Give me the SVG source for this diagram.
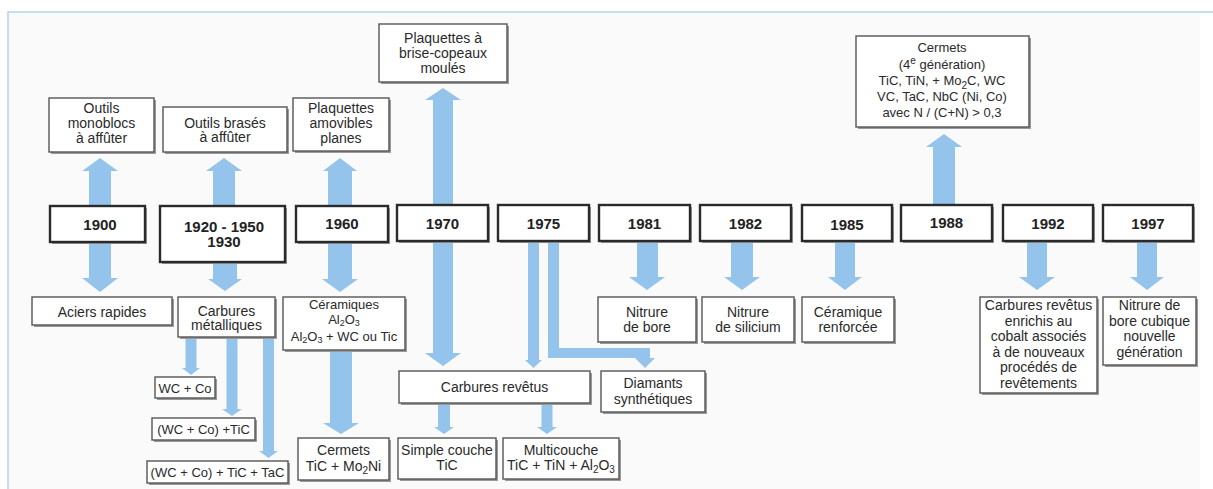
<svg xmlns="http://www.w3.org/2000/svg" width="1213" height="489" viewBox="0 0 1213 489">
<style>
text{font-family:"Liberation Sans",Arial,sans-serif;font-size:14px;fill:#2a2a2a;text-anchor:middle}
.yr{font-size:15px;font-weight:bold;fill:#222}
.sm{font-size:13px}
.box{fill:#fff;stroke:#555;stroke-width:1.4}
.ybox{fill:#fff;stroke:#2a2a2a;stroke-width:2.4}
.sh{fill:#9a9a9a}
.arr{fill:#94c4ec;stroke:none}
.sub{font-size:10px}
.sub9{font-size:9px}
</style>
<rect x="0" y="0" width="1213" height="489" fill="#fff"/>
<rect x="8" y="12" width="1192" height="477" fill="#fafafa"/>
<path d="M8 489 V12 H1213" fill="none" stroke="#b6d4e4" stroke-width="1.5"/>

<g id="connectors">
<polygon class="arr" points="89,206 111,206 111,171 118,171 100,158 82,171 89,171"/>
<polygon class="arr" points="213,206 235,206 235,171 242,171 224,158 206,171 213,171"/>
<polygon class="arr" points="328,206 352,206 352,171 357,171 340,158 323,171 328,171"/>
<polygon class="arr" points="433,100 425,100 443,88 461,100 453,100 453,353 461,353 443,366 425,353 433,353"/>
<polygon class="arr" points="933,205 955,205 955,147 962,147 944,134 926,147 933,147"/>
<polygon class="arr" points="89,242 111,242 111,278 118,278 100,292 82,278 89,278"/>
<polygon class="arr" points="213,262 237,262 237,279 242,279 225,291 208,279 213,279"/>
<polygon class="arr" points="328,242 352,242 352,279 358,279 340,292 322,279 328,279"/>
<polygon class="arr" points="528,241 539,241 539,360 542,360 533.5,368 525,360 528,360"/>
<polygon class="arr" points="548,241 559,241 559,348 650,348 650,358 655,358 645,368 635,358 548,358"/>
<polygon class="arr" points="637,241 658,241 658,277 665,277 647,290 629,277 637,277"/>
<polygon class="arr" points="731,241 753,241 753,277 760,277 742,290 724,277 731,277"/>
<polygon class="arr" points="835,241 855,241 855,277 862,277 845,290 828,277 835,277"/>
<polygon class="arr" points="1027,241 1047,241 1047,277 1055,277 1037,290 1019,277 1027,277"/>
<polygon class="arr" points="1137,241 1157,241 1157,277 1164,277 1147,290 1130,277 1137,277"/>
<polygon class="arr" points="330,350 352,350 352,423 359,423 341,434 323,423 330,423"/>
<polygon class="arr" points="185.5,337 196.5,337 196.5,368 200,368 191,375 182,368 185.5,368"/>
<polygon class="arr" points="226.5,337 237.5,337 237.5,409 242,409 232,416 222,409 226.5,409"/>
<polygon class="arr" points="263,337 274,337 274,451 278,451 268.5,458 259,451 263,451"/>
<polygon class="arr" points="438,403 450,403 450,427 454,427 444,434 434,427 438,427"/>
<polygon class="arr" points="541.5,403 552.5,403 552.5,427 557,427 547,434 537,427 541.5,427"/>
</g>

<g id="n-monoblocs"><rect class="sh" x="51" y="100" width="105" height="54"/><rect class="box" x="49" y="98" width="105" height="54"/><text x="101.5" y="113">Outils</text><text x="101.5" y="128">monoblocs</text><text x="101.5" y="143">à affûter</text></g>
<g id="n-brases"><rect class="sh" x="165" y="109" width="124" height="45"/><rect class="box" x="163" y="107" width="124" height="45"/><text x="225" y="128">Outils brasés</text><text x="225" y="142">à affûter</text></g>
<g id="n-amovibles"><rect class="sh" x="295" y="100" width="96" height="53"/><rect class="box" x="293" y="98" width="96" height="53"/><text x="341" y="113">Plaquettes</text><text x="341" y="128">amovibles</text><text x="341" y="143">planes</text></g>
<g id="n-brise"><rect class="sh" x="381" y="26" width="128" height="58"/><rect class="box" x="379" y="24" width="128" height="58"/><text x="443" y="43">Plaquettes à</text><text x="443" y="58">brise-copeaux</text><text x="443" y="73">moulés</text></g>
<g id="n-cermets4"><rect class="sh" x="858" y="38" width="173" height="91"/><rect class="box" x="856" y="36" width="173" height="91"/>
<text class="sm" x="942" y="52">Cermets</text>
<text class="sm" x="942" y="68.5">(4<tspan class="sub" dy="-5">e</tspan><tspan dy="5"> génération)</tspan></text>
<text class="sm" x="942" y="85">TiC, TiN,  + Mo<tspan class="sub" dy="4">2</tspan><tspan dy="-4">C, WC</tspan></text>
<text class="sm" x="942" y="101">VC, TaC, NbC (Ni, Co)</text>
<text class="sm" x="942" y="117">avec N / (C+N) &gt; 0,3</text></g>

<g id="y1900"><rect class="sh" x="52" y="208" width="95" height="36"/><rect class="ybox" x="50" y="206" width="95" height="36"/><text class="yr" x="100" y="229.5">1900</text></g>
<g id="y1920"><rect class="sh" x="162" y="208" width="125" height="56"/><rect class="ybox" x="160" y="206" width="125" height="56"/><text class="yr" x="224" y="232">1920 - 1950</text><text class="yr" x="224" y="247">1930</text></g>
<g id="y1960"><rect class="sh" x="298" y="208" width="92" height="36"/><rect class="ybox" x="296" y="206" width="92" height="36"/><text class="yr" x="342" y="229">1960</text></g>
<g id="y1970"><rect class="sh" x="399" y="207" width="91" height="36"/><rect class="ybox" x="397" y="205" width="91" height="36"/><text class="yr" x="442.5" y="228.5">1970</text></g>
<g id="y1975"><rect class="sh" x="500" y="207" width="91" height="36"/><rect class="ybox" x="498" y="205" width="91" height="36"/><text class="yr" x="543.5" y="228.5">1975</text></g>
<g id="y1981"><rect class="sh" x="601" y="207" width="91" height="36"/><rect class="ybox" x="599" y="205" width="91" height="36"/><text class="yr" x="644.5" y="228.5">1981</text></g>
<g id="y1982"><rect class="sh" x="702" y="207" width="91" height="36"/><rect class="ybox" x="700" y="205" width="91" height="36"/><text class="yr" x="745.5" y="228.5">1982</text></g>
<g id="y1985"><rect class="sh" x="804" y="207" width="90" height="36"/><rect class="ybox" x="802" y="205" width="90" height="36"/><text class="yr" x="847" y="230">1985</text></g>
<g id="y1988"><rect class="sh" x="903" y="207" width="91" height="36"/><rect class="ybox" x="901" y="205" width="91" height="36"/><text class="yr" x="946.5" y="228">1988</text></g>
<g id="y1992"><rect class="sh" x="1005" y="207" width="90" height="36"/><rect class="ybox" x="1003" y="205" width="90" height="36"/><text class="yr" x="1048" y="228.5">1992</text></g>
<g id="y1997"><rect class="sh" x="1105" y="207" width="90" height="36"/><rect class="ybox" x="1103" y="205" width="90" height="36"/><text class="yr" x="1148" y="228.5">1997</text></g>

<g id="n-aciers"><rect class="sh" x="34" y="299" width="140" height="28"/><rect class="box" x="32" y="297" width="140" height="28"/><text x="102" y="317">Aciers rapides</text></g>
<g id="n-carbmet"><rect class="sh" x="180" y="299" width="97" height="40"/><rect class="box" x="178" y="297" width="97" height="40"/><text x="226.5" y="316">Carbures</text><text x="226.5" y="330">métalliques</text></g>
<g id="n-ceram"><rect class="sh" x="285" y="299" width="122" height="53"/><rect class="box" x="283" y="297" width="122" height="53"/>
<text class="sm" x="344" y="309">Céramiques</text>
<text class="sm" x="344" y="324">Al<tspan class="sub9" dy="2">2</tspan><tspan dy="-2">O</tspan><tspan class="sub9" dy="2">3</tspan></text>
<text class="sm" x="344" y="341">Al<tspan class="sub9" dy="2">2</tspan><tspan dy="-2">O</tspan><tspan class="sub9" dy="2">3</tspan><tspan dy="-2"> + WC ou Tic</tspan></text></g>
<g id="n-wcco"><rect class="sh" x="157" y="379" width="60" height="21"/><rect class="box" x="155" y="377" width="60" height="21"/><text class="sm" x="185" y="392.5">WC + Co</text></g>
<g id="n-wccotic"><rect class="sh" x="154" y="420" width="103" height="22"/><rect class="box" x="152" y="418" width="103" height="22"/><text class="sm" x="203.5" y="434">(WC + Co) +TiC</text></g>
<g id="n-wccotictac"><rect class="sh" x="149" y="463" width="141" height="22"/><rect class="box" x="147" y="461" width="141" height="22"/><text class="sm" x="217.5" y="477">(WC + Co) + TiC + TaC</text></g>
<g id="n-cermets"><rect class="sh" x="300" y="440" width="91" height="42"/><rect class="box" x="298" y="438" width="91" height="42"/><text x="343.5" y="455">Cermets</text><text x="343.5" y="471">TiC + Mo<tspan class="sub" dy="3">2</tspan><tspan dy="-3">Ni</tspan></text></g>
<g id="n-carbrev"><rect class="sh" x="401" y="373" width="191" height="32"/><rect class="box" x="399" y="371" width="191" height="32"/><text x="494.5" y="392">Carbures revêtus</text></g>
<g id="n-diamants"><rect class="sh" x="603" y="373" width="104" height="41"/><rect class="box" x="601" y="371" width="104" height="41"/><text x="653" y="388">Diamants</text><text x="653" y="404">synthétiques</text></g>
<g id="n-simple"><rect class="sh" x="400" y="440" width="98" height="41"/><rect class="box" x="398" y="438" width="98" height="41"/><text x="447" y="455">Simple couche</text><text x="447" y="470">TiC</text></g>
<g id="n-multi"><rect class="sh" x="505" y="440" width="116" height="41"/><rect class="box" x="503" y="438" width="116" height="41"/><text x="561" y="455">Multicouche</text><text x="561" y="470">TiC + TiN + Al<tspan class="sub" dy="3">2</tspan><tspan dy="-3">O</tspan><tspan class="sub" dy="3">3</tspan></text></g>
<g id="n-nbore"><rect class="sh" x="600" y="299" width="98" height="45"/><rect class="box" x="598" y="297" width="98" height="45"/><text x="647" y="317">Nitrure</text><text x="647" y="332">de bore</text></g>
<g id="n-nsil"><rect class="sh" x="704" y="299" width="92" height="45"/><rect class="box" x="702" y="297" width="92" height="45"/><text x="748" y="317">Nitrure</text><text x="748" y="332">de silicium</text></g>
<g id="n-ceramrenf"><rect class="sh" x="804" y="299" width="92" height="45"/><rect class="box" x="802" y="297" width="92" height="45"/><text x="848" y="317">Céramique</text><text x="848" y="332">renforcée</text></g>
<g id="n-enrichis"><rect class="sh" x="982" y="299" width="117" height="96"/><rect class="box" x="980" y="297" width="117" height="96"/>
<text x="1038.5" y="310">Carbures revêtus</text><text x="1038.5" y="325.5">enrichis au</text><text x="1038.5" y="341">cobalt associés</text><text x="1038.5" y="356.5">à de nouveaux</text><text x="1038.5" y="372">procédés de</text><text x="1038.5" y="387.5">revêtements</text></g>
<g id="n-cubique"><rect class="sh" x="1105" y="299" width="93" height="68"/><rect class="box" x="1103" y="297" width="93" height="68"/>
<text x="1149.5" y="310">Nitrure de</text><text x="1149.5" y="325.5">bore cubique</text><text x="1149.5" y="341">nouvelle</text><text x="1149.5" y="356.5">génération</text></g>
</svg>
